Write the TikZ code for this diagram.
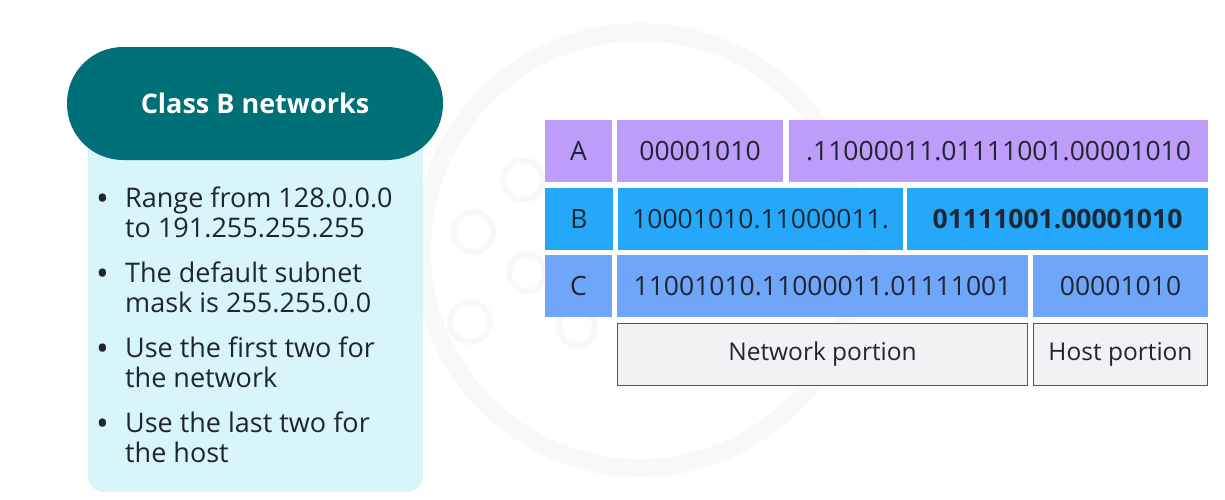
\documentclass[tikz,border=0pt]{standalone}
\usepackage{fontspec}
\setmainfont{Open Sans}

\definecolor{pillteal}{RGB}{0,112,120}
\definecolor{panelblue}{RGB}{216,246,250}
\definecolor{rowA}{RGB}{190,156,250}
\definecolor{rowB}{RGB}{38,168,250}
\definecolor{rowC}{RGB}{112,166,250}
\definecolor{darktext}{RGB}{30,38,48}
\definecolor{portionfill}{RGB}{242,242,245}
\definecolor{portionedge}{RGB}{85,85,85}
\definecolor{watermark}{RGB}{248,248,248}

\tikzset{
  cell/.style={minimum height=62pt, inner sep=0pt, text=darktext,
    font=\fontsize{26.5}{30}\selectfont},
  portion/.style={cell, fill=portionfill, draw=portionedge, line width=1.2pt,
    font=\fontsize{24.5}{28}\selectfont},
  line/.style={anchor=base west, inner sep=0pt, text=darktext,
    font=\fontsize{27}{30}\selectfont}
}

\begin{document}
\begin{tikzpicture}[x=1pt,y=-1pt]
\useasboundingbox (0,0) rectangle (1225,499);

% Watermark
 \draw[watermark, line width=18pt] (640,250) circle (218);
 \draw[watermark, line width=6pt] (523,180) circle (20) (473,232) circle (20)
   (527,273) circle (18) (470,322) circle (20) (577,327) circle (18);

% Left panel
 \fill[panelblue, rounded corners=16pt] (88,95) rectangle (423,492);
 \node[fill=pillteal, rounded corners=56pt, minimum width=376pt,
   minimum height=113pt, text=white,
   font=\fontsize{27}{30}\selectfont\bfseries] (title) at (255,103.5) {Class B networks};

 \foreach \y in {207,282,357,432}
   \node[line, font=\fontsize{34}{30}\selectfont] at (96,\y+3) {•};
 \node[line] (r1) at (125,207) {Range from 128.0.0.0};
 \node[line] (r2) at (125,237) {to 191.255.255.255};
 \node[line] (m1) at (125,282) {The default subnet};
 \node[line] (m2) at (125,312) {mask is 255.255.0.0};
 \node[line] (n1) at (125,357) {Use the first two for};
 \node[line] (n2) at (125,387) {the network};
 \node[line] (h1) at (125,432) {Use the last two for};
 \node[line] (h2) at (125,462) {the host};

% Class A
 \node[cell, fill=rowA, minimum width=67pt] (A) at (578.5,151) {A};
 \node[cell, fill=rowA, minimum width=166pt] (A1) at (700,151) {00001010};
 \node[cell, fill=rowA, minimum width=419pt] (A2) at (998.5,151) {.11000011.01111001.00001010};

% Class B
 \node[cell, fill=rowB, minimum width=68pt] (B) at (579,219) {B};
 \node[cell, fill=rowB, minimum width=285pt] (B1) at (760.5,219) {10001010.11000011.};
 \node[cell, fill=rowB, minimum width=301pt, font=\fontsize{26.5}{30}\selectfont\bfseries] (B2) at (1057.5,219) {01111001.00001010};

% Class C
 \node[cell, fill=rowC, minimum width=67pt] (C) at (578.5,286) {C};
 \node[cell, fill=rowC, minimum width=411pt] (C1) at (822.5,286) {11001010.11000011.01111001};
 \node[cell, fill=rowC, minimum width=175pt] (C2) at (1120.5,286) {00001010};

% Portions
 \node[portion, minimum width=410pt] (net) at (822.5,354.5) {Network portion};
 \node[portion, minimum width=174pt] (host) at (1120.5,354.5) {Host portion};

\end{tikzpicture}
\end{document}
